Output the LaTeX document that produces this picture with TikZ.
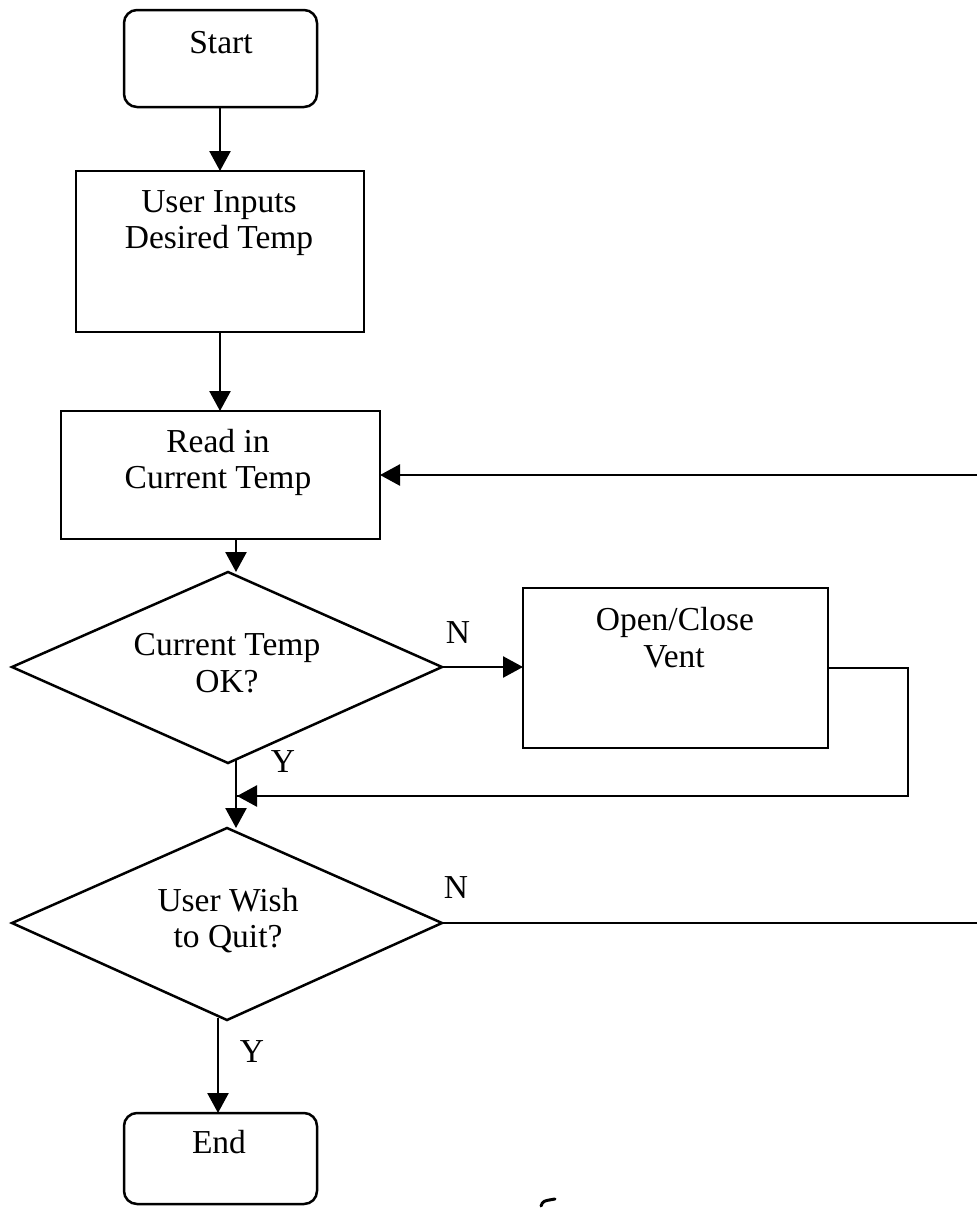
\documentclass[tikz,border=0pt]{standalone}
\usepackage{fontspec}
\setmainfont{Liberation Serif}
\usetikzlibrary{arrows.meta}
\newcommand\fcfont{\fontsize{33.5}{37}\selectfont}
\tikzset{
  shp/.style={draw, line width=2.5pt, line join=miter},
  txt/.style={font=\fcfont, align=center, inner sep=0pt, anchor=base},
  lbl/.style={font=\fcfont, inner sep=0pt, anchor=base},
  ln/.style={line width=2.5pt},
  arr/.style={line width=2.5pt, -{Triangle[length=20pt,width=21pt]}},
}
\begin{document}
\begin{tikzpicture}[x=1pt,y=-1pt]
\useasboundingbox (0,0) rectangle (977,1208);
% shapes
\draw[shp, rounded corners=13pt] (124,10) rectangle (317,107);
\coordinate (startS) at (220,107);
\draw[shp] (76,171) rectangle (364,332);
\coordinate (inN) at (220,171);
\coordinate (inS) at (220,332);
\draw[shp] (61,411) rectangle (380,539);
\coordinate (rdN) at (220,411);
\coordinate (rdS) at (236,539);
\coordinate (rdE) at (380,475);
\draw[shp] (228,572) -- (442,667) -- (228,763) -- (12,667) -- cycle;
\coordinate (d1N) at (236,572);
\coordinate (d1E) at (442,667);
\coordinate (d1S) at (236,760);
\draw[shp] (523,588) rectangle (828,748);
\coordinate (vW) at (523,667);
\coordinate (vE) at (828,668);
\draw[shp] (227,828) -- (442,923) -- (227,1020) -- (12,923) -- cycle;
\coordinate (d2N) at (236,828);
\coordinate (d2E) at (442,923);
\coordinate (d2S) at (218,1018);
\draw[shp, rounded corners=13pt] (124,1113) rectangle (317,1204);
\coordinate (endN) at (218,1113);
\coordinate (rR) at (977,475);
\coordinate (qR) at (977,923);
\coordinate (j1) at (908,668);
\coordinate (j2) at (908,796);
\coordinate (j3) at (236,796);
% texts
\node[txt] (tStart) at (221,53) {Start};
\node[txt] (tIn1) at (219,212) {User Inputs};
\node[txt] (tIn2) at (219,248) {Desired Temp};
\node[txt] (tRd1) at (218,452) {Read in};
\node[txt] (tRd2) at (218,488) {Current Temp};
\node[txt] (tD11) at (227,655) {Current Temp};
\node[txt] (tD12) at (227,692) {OK?};
\node[txt] (tV1) at (675,630) {Open/Close};
\node[txt] (tV2) at (674,667) {Vent};
\node[txt] (tD21) at (228,911) {User Wish};
\node[txt] (tD22) at (228,947) {to Quit?};
\node[txt] (tEnd) at (219,1153) {End};
\node[lbl] (n1) at (458,643) {N};
\node[lbl] (y1) at (283,772) {Y};
\node[lbl] (n2) at (456,898) {N};
\node[lbl] (y2) at (252,1062) {Y};
% connectors
\draw[arr] (startS) -- (inN);
\draw[arr] (inS) -- (rdN);
\draw[arr] (rdS) -- (d1N);
\draw[arr] (rR) -- (rdE);
\draw[arr] (d1E) -- (vW);
\draw[ln] (vE) -- (j1) -- (j2) -- (j3);
\draw[arr] (j2) -- ([xshift=1pt]j3);
\draw[arr] (d1S) -- (d2N);
\draw[ln] (d2E) -- (qR);
\draw[arr] (d2S) -- (endN);
% stray pen mark
\draw[line width=3pt, line cap=round] (541,1206) .. controls (543,1201) .. (555,1199);
\end{tikzpicture}
\end{document}
